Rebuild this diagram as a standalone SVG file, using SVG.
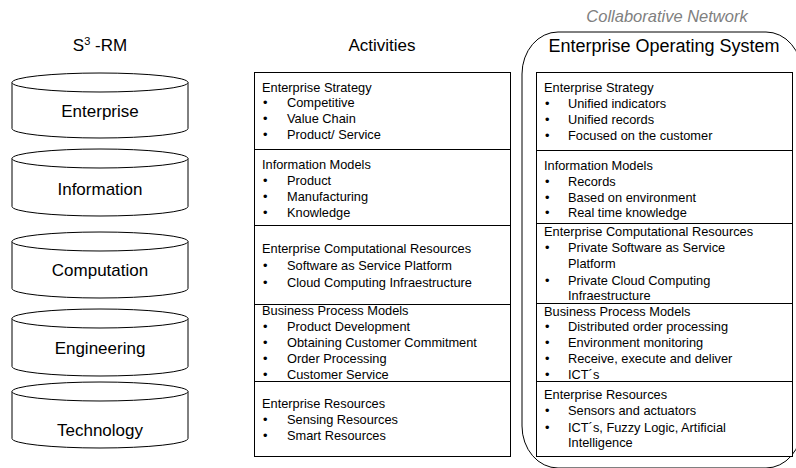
<svg xmlns="http://www.w3.org/2000/svg" width="796" height="468" viewBox="0 0 796 468">
<style>
.t{font-family:"Liberation Sans",Arial,sans-serif;fill:#000}
.h{font-size:17px}
.c{font-size:17px;text-anchor:middle}
.s{font-size:12.8px}
.ln{stroke:#000;stroke-width:1;fill:none}
.cyl{stroke:#000;stroke-width:1;fill:#fff}
.box{stroke:#000;stroke-width:1;fill:#fff}
</style>
<rect width="796" height="468" fill="#fff"/>
<g id="headers">
<text class="t c" x="100" y="51">S<tspan font-size="11" dy="-6">3</tspan><tspan dy="6"> -RM</tspan></text>
<text class="t c" x="382" y="51">Activities</text>
<text class="t" x="667" y="22" font-size="16.5" font-style="italic" text-anchor="middle" style="fill:#808080">Collaborative Network</text>
</g>
<g id="frame">
<path class="ln" d="M522,74 A36,42 0 0 1 558,32 L766,32 A36,42 0 0 1 802,74 L802,426 A36,42 0 0 1 766,468 L558,468 A36,42 0 0 1 522,426 Z"/>
<text class="t" x="664" y="52" font-size="18" text-anchor="middle">Enterprise Operating System</text>
</g>
<g id="cyl-enterprise">
<path class="cyl" d="M12,82.5 L12,128.5 A88,9.5 0 0 0 188,128.5 L188,82.5"/>
<ellipse class="cyl" cx="100" cy="82.5" rx="88" ry="9.5"/>
<text class="t c" x="100" y="117">Enterprise</text>
</g>
<g id="cyl-information">
<path class="cyl" d="M12,158.5 L12,206.5 A88,9.5 0 0 0 188,206.5 L188,158.5"/>
<ellipse class="cyl" cx="100" cy="158.5" rx="88" ry="9.5"/>
<text class="t c" x="100" y="195">Information</text>
</g>
<g id="cyl-computation">
<path class="cyl" d="M12,241.5 L12,288.5 A88,9.5 0 0 0 188,288.5 L188,241.5"/>
<ellipse class="cyl" cx="100" cy="241.5" rx="88" ry="9.5"/>
<text class="t c" x="100" y="276">Computation</text>
</g>
<g id="cyl-engineering">
<path class="cyl" d="M12,318.5 L12,366.5 A88,9.5 0 0 0 188,366.5 L188,318.5"/>
<ellipse class="cyl" cx="100" cy="318.5" rx="88" ry="9.5"/>
<text class="t c" x="100" y="354">Engineering</text>
</g>
<g id="cyl-technology">
<path class="cyl" d="M12,391.5 L12,438.5 A88,9.5 0 0 0 188,438.5 L188,391.5"/>
<ellipse class="cyl" cx="100" cy="391.5" rx="88" ry="9.5"/>
<text class="t c" x="100" y="436">Technology</text>
</g>
<g id="activities">
<rect class="box" x="254.5" y="72.5" width="256" height="384"/>
<path class="ln" d="M254.5,149.5 H510.5 M254.5,225.5 H510.5 M254.5,304.5 H510.5 M254.5,381.5 H510.5"/>
<g class="t s">
<text x="262" y="92">Enterprise Strategy</text>
<text x="263" y="107">•</text><text x="287" y="107">Competitive</text>
<text x="263" y="123">•</text><text x="287" y="123">Value Chain</text>
<text x="263" y="139">•</text><text x="287" y="139">Product/ Service</text>
<text x="262" y="169">Information Models</text>
<text x="263" y="185">•</text><text x="287" y="185">Product</text>
<text x="263" y="201">•</text><text x="287" y="201">Manufacturing</text>
<text x="263" y="217">•</text><text x="287" y="217">Knowledge</text>
<text x="262" y="253">Enterprise Computational Resources</text>
<text x="263" y="270">•</text><text x="287" y="270">Software as Service Platform</text>
<text x="263" y="287">•</text><text x="287" y="287">Cloud Computing Infraestructure</text>
<text x="262" y="315">Business Process Models</text>
<text x="263" y="331">•</text><text x="287" y="331">Product Development</text>
<text x="263" y="347">•</text><text x="287" y="347">Obtaining Customer Commitment</text>
<text x="263" y="363">•</text><text x="287" y="363">Order Processing</text>
<text x="263" y="379">•</text><text x="287" y="379">Customer Service</text>
<text x="262" y="408">Enterprise Resources</text>
<text x="263" y="424">•</text><text x="287" y="424">Sensing Resources</text>
<text x="263" y="440">•</text><text x="287" y="440">Smart Resources</text>
</g>
</g>
<g id="eos">
<rect class="box" x="536.5" y="72.5" width="256" height="384"/>
<path class="ln" d="M536.5,150.5 H792.5 M536.5,223.5 H792.5 M536.5,303.5 H792.5 M536.5,381.5 H792.5"/>
<g class="t s">
<text x="544" y="92">Enterprise Strategy</text>
<text x="545" y="108">•</text><text x="568" y="108">Unified indicators</text>
<text x="545" y="124">•</text><text x="568" y="124">Unified records</text>
<text x="545" y="140">•</text><text x="568" y="140">Focused on the customer</text>
<text x="544" y="170">Information Models</text>
<text x="545" y="186">•</text><text x="568" y="186">Records</text>
<text x="545" y="202">•</text><text x="568" y="202">Based on environment</text>
<text x="545" y="217">•</text><text x="568" y="217">Real time knowledge</text>
<text x="544" y="236">Enterprise Computational Resources</text>
<text x="545" y="252">•</text><text x="568" y="252">Private Software as Service</text>
<text x="568" y="268">Platform</text>
<text x="545" y="285">•</text><text x="568" y="285">Private Cloud Computing</text>
<text x="568" y="300">Infraestructure</text>
<text x="544" y="316">Business Process Models</text>
<text x="545" y="331">•</text><text x="568" y="331">Distributed order processing</text>
<text x="545" y="347">•</text><text x="568" y="347">Environment monitoring</text>
<text x="545" y="363">•</text><text x="568" y="363">Receive, execute and deliver</text>
<text x="545" y="379">•</text><text x="568" y="379">ICT´s</text>
<text x="544" y="399">Enterprise Resources</text>
<text x="545" y="415">•</text><text x="568" y="415">Sensors and actuators</text>
<text x="545" y="432">•</text><text x="568" y="432">ICT´s, Fuzzy Logic, Artificial</text>
<text x="568" y="447">Intelligence</text>
</g>
</g>
<g id="connectors"></g>
</svg>
